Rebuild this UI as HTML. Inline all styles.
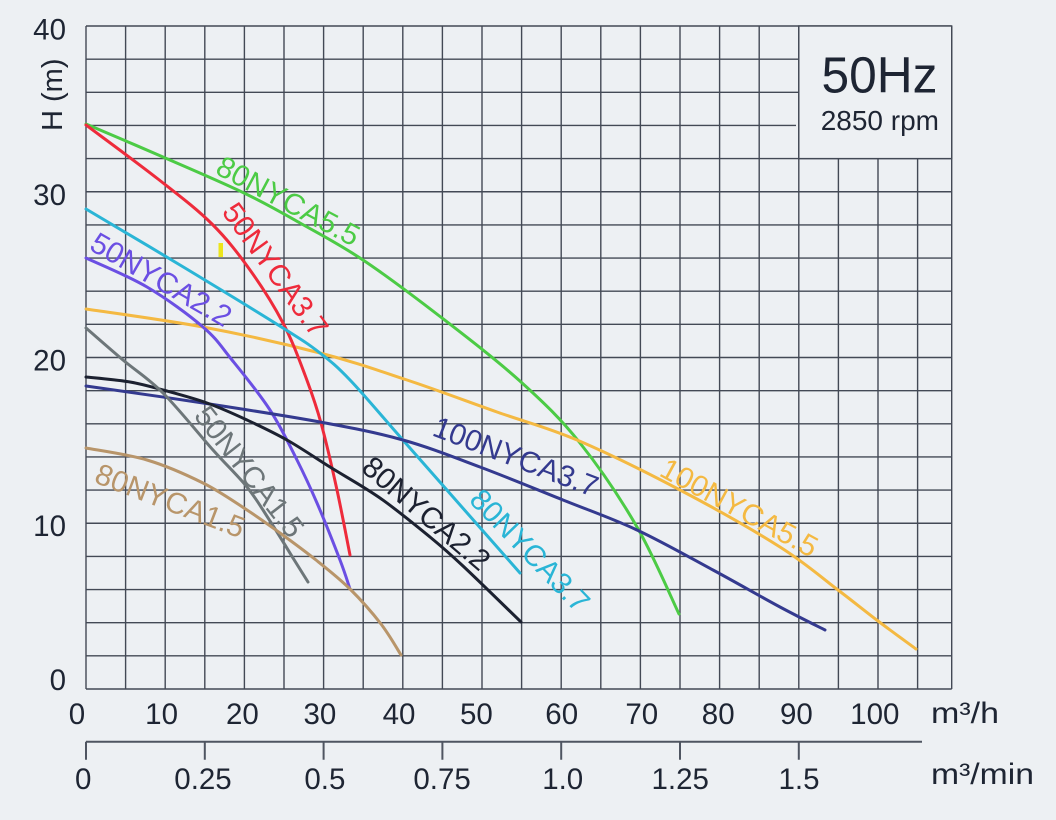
<!DOCTYPE html>
<html>
<head>
<meta charset="utf-8">
<style>
  html,body{margin:0;padding:0;background:#edf0f3;}
  svg{display:block;}
  text{font-family:"Liberation Sans", Arial, sans-serif;}
</style>
</head>
<body>
<svg width="1056" height="820" viewBox="0 0 1056 820" xmlns="http://www.w3.org/2000/svg">
  <rect x="0" y="0" width="1056" height="820" fill="#edf0f3"/>

  <!-- grid -->
  <g stroke="#434955" stroke-width="1.4" fill="none">
    <path d="M86 26V689 M125.6 26V689 M165.2 26V689 M204.8 26V689 M244.4 26V689 M284 26V689 M323.6 26V689 M363.2 26V689 M402.8 26V689 M442.4 26V689 M482 26V689 M521.6 26V689 M561.2 26V689 M600.8 26V689 M640.4 26V689 M680 26V689 M719.6 26V689 M759.2 26V689 M798.8 26V689 M838.4 158.6V689 M878 158.6V689 M917.6 158.6V689 M951.7 26V689"/>
    <path d="M86 26H951.7 M86 59.15H798.8 M86 92.3H798.8 M86 125.45H796 M86 158.6H951.7 M86 191.75H951.7 M86 224.9H951.7 M86 258.05H951.7 M86 291.2H951.7 M86 324.35H951.7 M86 357.5H951.7 M86 390.65H951.7 M86 423.8H951.7 M86 456.95H951.7 M86 490.1H951.7 M86 523.25H951.7 M86 556.4H951.7 M86 589.55H951.7 M86 622.7H951.7 M86 655.85H951.7 M86 689H951.7"/>
  </g>
  <!-- info box -->
  <rect x="798.8" y="26" width="152.9" height="132.6" fill="#edf0f3" stroke="#434955" stroke-width="1.4"/>
  <text x="937.5" y="92.7" font-size="51" fill="#1e2533" text-anchor="end" textLength="116" lengthAdjust="spacingAndGlyphs">50Hz</text>
  <text x="939" y="130" font-size="28" fill="#1e2533" text-anchor="end">2850 rpm</text>

  <!-- yellow mark -->
  <rect x="218.5" y="243" width="4.5" height="14" fill="#ece51c"/>

  <!-- curves -->
  <g fill="none" stroke-width="3" stroke-linejoin="round" stroke-linecap="round">
    <!-- 80NYCA5.5 green -->
    <path stroke="#4ccb45" d="M86,124 C98.8,129.5 136.7,145.5 163,157 C189.3,168.5 221.2,182 244,193 C266.8,204 280.2,211.8 300,223 C319.8,234.2 339.3,244.2 363,260 C386.7,275.8 415.7,297.7 442,318 C468.3,338.3 498,361.2 521,382 C544,402.8 560.7,418.8 580,443 C599.3,467.2 620.5,498.5 637,527 C653.5,555.5 672,599.5 679,614"/>
    <!-- 100NYCA5.5 orange -->
    <path stroke="#f4b942" d="M86,309 C105.5,312 164,319.7 203,327 C242,334.3 286,344.2 320,353 C354,361.8 377.5,370.2 407,380 C436.5,389.8 468.7,402 497,412 C525.3,422 546.5,427 577,440 C607.5,453 646.2,472.2 680,490 C713.8,507.8 753.7,530.3 780,547 C806.3,563.7 821.7,577.7 838,590 C854.3,602.3 865,611.2 878,621 C891,630.8 909.7,644.3 916,649"/>
    <!-- 50NYCA3.7 red -->
    <path stroke="#ee2b3b" d="M86,125 C98,134 137,162.5 158,179 C179,195.5 196.7,208.8 212,224 C227.3,239.2 238.2,253.5 250,270 C261.8,286.5 273.8,305.5 283,323 C292.2,340.5 298.7,358.3 305,375 C311.3,391.7 315.7,403.8 321,423 C326.3,442.2 332.2,468 337,490 C341.8,512 347.8,544.2 350,555"/>
    <!-- 80NYCA3.7 cyan -->
    <path stroke="#2ab5d6" d="M86,209 C102.5,218.8 152.2,248.2 185,268 C217.8,287.8 260.5,313.8 283,328 C305.5,342.2 308.8,344.3 320,353 C331.2,361.7 336.3,365.7 350,380 C363.7,394.3 379.8,413.8 402,439 C424.2,464.2 463.3,508.7 483,531 C502.7,553.3 513.8,566 520,573"/>
    <!-- 50NYCA2.2 purple -->
    <path stroke="#6b4fe3" d="M86,258 C96.2,262.8 127.5,275.5 147,287 C166.5,298.5 188.8,314.8 203,327 C217.2,339.2 220.8,346.2 232,360 C243.2,373.8 259.2,393.3 270,410 C280.8,426.7 289.2,444.5 297,460 C304.8,475.5 309.8,486.3 317,503 C324.2,519.7 334.5,545.7 340,560 C345.5,574.3 348.3,584.2 350,589"/>
    <!-- 100NYCA3.7 navy -->
    <path stroke="#343a8f" d="M86,386 C105.5,388.8 164,397 203,403 C242,409 286.7,415.8 320,422 C353.3,428.2 376.3,432.5 403,440 C429.7,447.5 453.3,457 480,467 C506.7,477 536.8,489.5 563,500 C589.2,510.5 612,518.3 637,530 C662,541.7 689.2,557.2 713,570 C736.8,582.8 761.3,597 780,607 C798.7,617 817.5,626.2 825,630"/>
    <!-- 80NYCA2.2 black -->
    <path stroke="#1c2130" d="M86,377 C93.3,377.8 117.2,379.8 130,382 C142.8,384.2 150.2,386.5 163,390 C175.8,393.5 193,398 207,403 C221,408 233.7,413.8 247,420 C260.3,426.2 273.2,432.2 287,440 C300.8,447.8 314.5,457.3 330,467 C345.5,476.7 363.3,486.3 380,498 C396.7,509.7 416.2,525.7 430,537 C443.8,548.3 447.8,551.8 463,566 C478.2,580.2 511.3,612.7 521,622"/>
    <!-- 50NYCA1.5 gray -->
    <path stroke="#6d7679" d="M86,328 C92.2,333.3 110.2,349.2 123,360 C135.8,370.8 148,378 163,393 C178,408 199,434.3 213,450 C227,465.7 237.5,475.2 247,487 C256.5,498.8 262.3,509.2 270,521 C277.7,532.8 286.7,547.8 293,558 C299.3,568.2 305.5,578 308,582"/>
    <!-- 80NYCA1.5 tan -->
    <path stroke="#b8956a" d="M86,448 C96.2,450 127.5,454.2 147,460 C166.5,465.8 186.3,474.7 203,483 C219.7,491.3 234.2,501.7 247,510 C259.8,518.3 268.5,524.7 280,533 C291.5,541.3 304.3,550.7 316,560 C327.7,569.3 339.2,578.3 350,589 C360.8,599.7 372.5,613 381,624 C389.5,635 397.7,649.8 401,655"/>
  </g>

  <!-- curve labels -->
  <g font-size="29.8">
    <text transform="translate(214,173) rotate(28)" fill="#4ccb45">80NYCA5.5</text>
    <text transform="translate(221,212) rotate(54)" fill="#ee2b3b">50NYCA3.7</text>
    <text transform="translate(88,249) rotate(30)" fill="#6b4fe3">50NYCA2.2</text>
    <text transform="translate(431,435) rotate(21)" fill="#343a8f">100NYCA3.7</text>
    <text transform="translate(360,470) rotate(40.5)" fill="#1c2130">80NYCA2.2</text>
    <text transform="translate(468,501) rotate(46)" fill="#2ab5d6">80NYCA3.7</text>
    <text transform="translate(658,475) rotate(28.5)" fill="#f4b942">100NYCA5.5</text>
    <text transform="translate(193,416) rotate(52)" fill="#6d7679">50NYCA1.5</text>
    <text transform="translate(93,482) rotate(21)" fill="#b8956a">80NYCA1.5</text>
  </g>

  <!-- Y axis labels -->
  <g font-size="29.5" fill="#1e2533" text-anchor="end">
    <text x="66" y="39.5">40</text>
    <text x="66" y="205">30</text>
    <text x="66" y="370.5">20</text>
    <text x="66" y="536">10</text>
    <text x="66" y="690">0</text>
  </g>
  <text transform="translate(62,131) rotate(-90)" font-size="29" fill="#1e2533">H (m)</text>

  <!-- X axis labels m3/h -->
  <g font-size="29.5" fill="#1e2533" text-anchor="middle">
    <text x="77" y="724">0</text>
    <text x="161.6" y="724">10</text>
    <text x="242.4" y="724">20</text>
    <text x="319.9" y="724">30</text>
    <text x="399" y="724">40</text>
    <text x="476.4" y="724">50</text>
    <text x="561.7" y="724">60</text>
    <text x="641.8" y="724">70</text>
    <text x="718.2" y="724">80</text>
    <text x="796.4" y="724">90</text>
    <text x="874.8" y="724">100</text>
  </g>
  <text x="931" y="723" font-size="30" fill="#1e2533" textLength="68" lengthAdjust="spacingAndGlyphs">m³/h</text>

  <!-- secondary axis m3/min -->
  <g stroke="#4f5561" stroke-width="2" fill="none">
    <path d="M86 741.8H922"/>
    <path d="M86 741.8V759.7 M204.8 741.8V759.7 M323.6 741.8V759.7 M442.4 741.8V759.7 M561.2 741.8V759.7 M680 741.8V759.7 M798.8 741.8V759.7"/>
  </g>
  <g font-size="29.5" fill="#1e2533" text-anchor="middle">
    <text x="83.2" y="789">0</text>
    <text x="203" y="789">0.25</text>
    <text x="324.9" y="789">0.5</text>
    <text x="442.1" y="789">0.75</text>
    <text x="562.7" y="789">1.0</text>
    <text x="680.2" y="789">1.25</text>
    <text x="799" y="789">1.5</text>
  </g>
  <text x="931" y="784" font-size="30" fill="#1e2533" textLength="103" lengthAdjust="spacingAndGlyphs">m³/min</text>
</svg>
</body>
</html>
